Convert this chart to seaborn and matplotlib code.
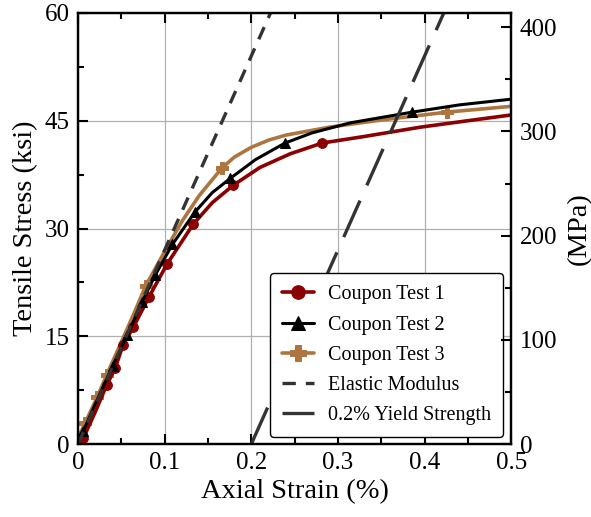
import numpy as np
import seaborn as sns
import matplotlib.pyplot as plt
from matplotlib.ticker import MultipleLocator

# datos (deformacion %, esfuerzo ksi)
t1_strain = [0, 0.006, 0.02, 0.033, 0.043, 0.052, 0.064, 0.082, 0.103, 0.133, 0.155, 0.179,
             0.21, 0.245, 0.282, 0.33, 0.395, 0.45, 0.5]
t1_stress = [0.3, 0.8, 4.5, 8.2, 10.6, 13.8, 16.3, 20.5, 25.1, 30.6, 33.6, 36.0,
             38.5, 40.4, 41.9, 42.8, 44.1, 45.0, 45.8]
t1_marks = [1, 3, 4, 5, 6, 7, 8, 9, 11, 14]

t2_strain = [0, 0.006, 0.02, 0.04, 0.057, 0.074, 0.089, 0.109, 0.135, 0.155, 0.176, 0.205,
             0.239, 0.27, 0.314, 0.386, 0.44, 0.5]
t2_stress = [0.5, 1.8, 5.6, 10.9, 15.2, 19.8, 23.5, 27.8, 32.3, 35.0, 37.0, 39.6,
             41.9, 43.3, 44.7, 46.2, 47.2, 48.0]
t2_marks = [1, 3, 4, 5, 6, 7, 8, 10, 12, 15]

t3_strain = [0, 0.008, 0.022, 0.033, 0.05, 0.065, 0.078, 0.1, 0.12, 0.14, 0.166, 0.18,
             0.2, 0.22, 0.24, 0.29, 0.35, 0.426, 0.5]
t3_stress = [0.8, 2.9, 6.5, 9.6, 14.2, 18.3, 22.0, 26.8, 31.0, 34.6, 38.4, 39.9,
             41.3, 42.3, 43.0, 44.1, 45.1, 46.2, 47.0]
t3_marks = [1, 2, 3, 6, 10, 17]

elastic_strain = [0, 0.2222]
elastic_stress = [0, 60]
yield_strain = [0.2, 0.4222]
yield_stress = [0, 60]

x_ticks = [0, 0.1, 0.2, 0.3, 0.4, 0.5]
x_labels = ['0', '0.1', '0.2', '0.3', '0.4', '0.5']

KSI_TO_MPA = 6.89476

sns.set_style("ticks")
plt.rcParams['font.family'] = ['Liberation Serif', 'DejaVu Serif']
plt.rcParams['text.color'] = 'black'
plt.rcParams['axes.labelcolor'] = 'black'
plt.rcParams['xtick.color'] = 'black'
plt.rcParams['ytick.color'] = 'black'
plt.rcParams['axes.edgecolor'] = 'black'

fig = plt.figure(figsize=(5.91, 5.17), dpi=100)
ax = fig.add_axes([0.132, 0.141, 0.733, 0.834])

red = '#8b0000'
tan = '#ad7640'

sns.lineplot(x=t1_strain, y=t1_stress, ax=ax, color=red, lw=2.6, marker='o', ms=7,
             markevery=t1_marks, mec=red, estimator=None, sort=False,
             label='Coupon Test 1', zorder=3)
sns.lineplot(x=t2_strain, y=t2_stress, ax=ax, color='black', lw=2.2, marker='^', ms=7,
             markevery=t2_marks, mec='black', estimator=None, sort=False,
             label='Coupon Test 2', zorder=3)
sns.lineplot(x=t3_strain, y=t3_stress, ax=ax, color=tan, lw=2.6, marker='P', ms=8,
             markevery=t3_marks, mec=tan, estimator=None, sort=False,
             label='Coupon Test 3', zorder=2)
sns.lineplot(x=elastic_strain, y=elastic_stress, ax=ax, color='#333333', lw=2.4,
             estimator=None, sort=False, label='Elastic Modulus', zorder=4)
sns.lineplot(x=yield_strain, y=yield_stress, ax=ax, color='#333333', lw=2.4,
             estimator=None, sort=False, label='0.2% Yield Strength', zorder=4)
ax.lines[3].set_dashes([4, 3])
ax.lines[4].set_dashes([12, 5])

ax.set_xlim(0, 0.5)
ax.set_ylim(0, 60)
ax.set_xticks(x_ticks)
ax.set_xticklabels(x_labels)
ax.xaxis.set_minor_locator(MultipleLocator(0.05))
ax.yaxis.set_major_locator(MultipleLocator(15))
ax.yaxis.set_minor_locator(MultipleLocator(7.5))
ax.grid(True, which='major', color='#b0b0b0', lw=0.9)
ax.set_axisbelow(True)
ax.tick_params(which='both', direction='in', top=True, right=False, width=1.5,
               labelsize=18, pad=6)
ax.tick_params(which='major', length=7)
ax.tick_params(which='minor', length=4)
for s in ax.spines.values():
    s.set_linewidth(1.6)
ax.set_xlabel('Axial Strain (%)', fontsize=20.5, labelpad=3)
ax.set_ylabel('Tensile Stress (ksi)', fontsize=20.5, labelpad=5)

ax2 = ax.twinx()
ax2.set_ylim(0, 60 * KSI_TO_MPA)
ax2.yaxis.set_major_locator(MultipleLocator(100))
ax2.yaxis.set_minor_locator(MultipleLocator(50))
ax2.tick_params(which='both', direction='in', width=1.5, labelsize=18, pad=6)
ax2.tick_params(which='major', length=7)
ax2.tick_params(which='minor', length=4)
for s in ax2.spines.values():
    s.set_linewidth(1.6)
ax2.set_ylabel('(MPa)', fontsize=20.5, labelpad=7)

leg = ax.legend(loc='lower right', bbox_to_anchor=(0.982, 0.016), borderaxespad=0,
                fontsize=14.5, frameon=True, fancybox=True, edgecolor='black',
                framealpha=1, handlelength=1.6, labelspacing=0.55, markerscale=1.4,
                borderpad=0.6, handletextpad=0.7)
leg.get_frame().set_linewidth(1.0)

fig.savefig('out.png', dpi=100)
